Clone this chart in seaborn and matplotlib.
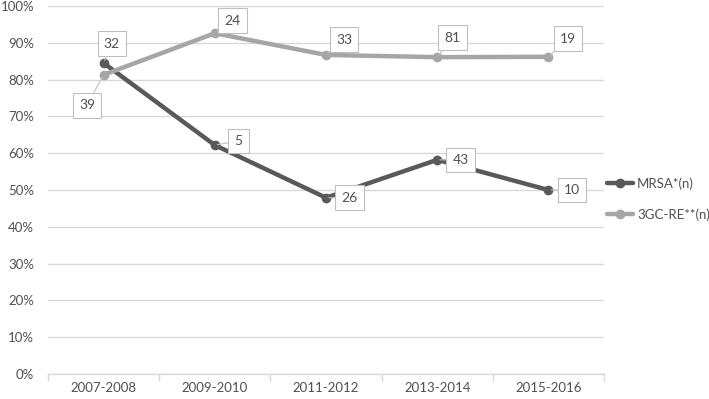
import matplotlib
matplotlib.use("Agg")
import matplotlib.pyplot as plt
import seaborn as sns
import pandas as pd
import numpy as np
from matplotlib.ticker import FixedLocator, FuncFormatter

periods = ["2007-2008", "2009-2010", "2011-2012", "2013-2014", "2015-2016"]
mrsa = [84.5, 62.2, 47.9, 58.2, 50.0]
gcre = [81.3, 92.6, 86.7, 86.1, 86.2]
mrsa_n = ["32", "5", "26", "43", "10"]
gcre_n = ["39", "24", "33", "81", "19"]
series_names = ["MRSA*(n)", "3GC-RE**(n)"]

sns.set_theme(style="white")
plt.rcParams['font.family'] = ['Lato', 'DejaVu Sans']

text_col = "#505050"
dark = "#595959"
light = "#a6a6a6"

df = pd.DataFrame({
    "period": periods * 2,
    "x": list(range(len(periods))) * 2,
    "value": mrsa + gcre,
    "series": [series_names[0]] * len(periods) + [series_names[1]] * len(periods),
})

fig = plt.figure(figsize=(7.09, 3.99), dpi=100)
ax = fig.add_axes([48/709, 1 - 374/399, (604-48)/709, (374-6)/399])

sns.lineplot(data=df, x="x", y="value", hue="series", palette=[dark, light],
             marker="o", markersize=7, markeredgewidth=0, linewidth=3.2,
             ax=ax, legend=True, zorder=3)

ax.set_xlim(-0.5, len(periods) - 0.5)
ax.set_ylim(0, 100)
ax.set_yticks(np.arange(0, 101, 10))
ax.yaxis.set_major_formatter(FuncFormatter(lambda v, p: f"{int(v)}%"))
ax.set_xticks(range(len(periods)))
ax.set_xticklabels(periods)
ax.xaxis.set_minor_locator(FixedLocator(np.arange(-0.5, len(periods), 1.0)))
ax.tick_params(axis="x", which="major", length=0, pad=6, labelsize=9.5, colors=text_col)
ax.tick_params(axis="x", which="minor", length=5, color="#d9d9d9", width=1, direction="out", bottom=True)
ax.tick_params(axis="y", length=0, pad=10, labelsize=9.5, colors=text_col)
ax.set_xlabel("")
ax.set_ylabel("")
ax.grid(axis="y", color="#d9d9d9", linewidth=1)
for s in ["top", "right", "left"]:
    ax.spines[s].set_visible(False)
ax.spines["bottom"].set_color("#d9d9d9")
ax.spines["bottom"].set_linewidth(1)

def label(i, val, txt, dx, dy):
    ax.annotate(txt, xy=(i, val), xytext=(dx, dy), textcoords="offset points",
                ha="center", va="center", fontsize=10, color=text_col,
                bbox=dict(boxstyle="square,pad=0.45", fc="white", ec="#bfbfbf", lw=0.8),
                arrowprops=dict(arrowstyle="-", color="#bfbfbf", lw=0.8, shrinkA=0, shrinkB=2),
                zorder=5)

mrsa_off = [(6, 14), (17, 3), (17, 0), (17, 0), (17, 0)]
gcre_off = [(-12, -22), (13, 9), (13, 11), (11, 14), (14, 13)]
for i in range(len(periods)):
    label(i, mrsa[i], mrsa_n[i], *mrsa_off[i])
    label(i, gcre[i], gcre_n[i], *gcre_off[i])

leg = ax.legend(loc="center left", bbox_to_anchor=(1.0, 0.475), frameon=False,
                fontsize=9.5, handlelength=2.0, labelspacing=1.4, handletextpad=0.3,
                borderaxespad=0.2, borderpad=0)
for t in leg.get_texts():
    t.set_color(text_col)

fig.savefig("out.png", dpi=100)
